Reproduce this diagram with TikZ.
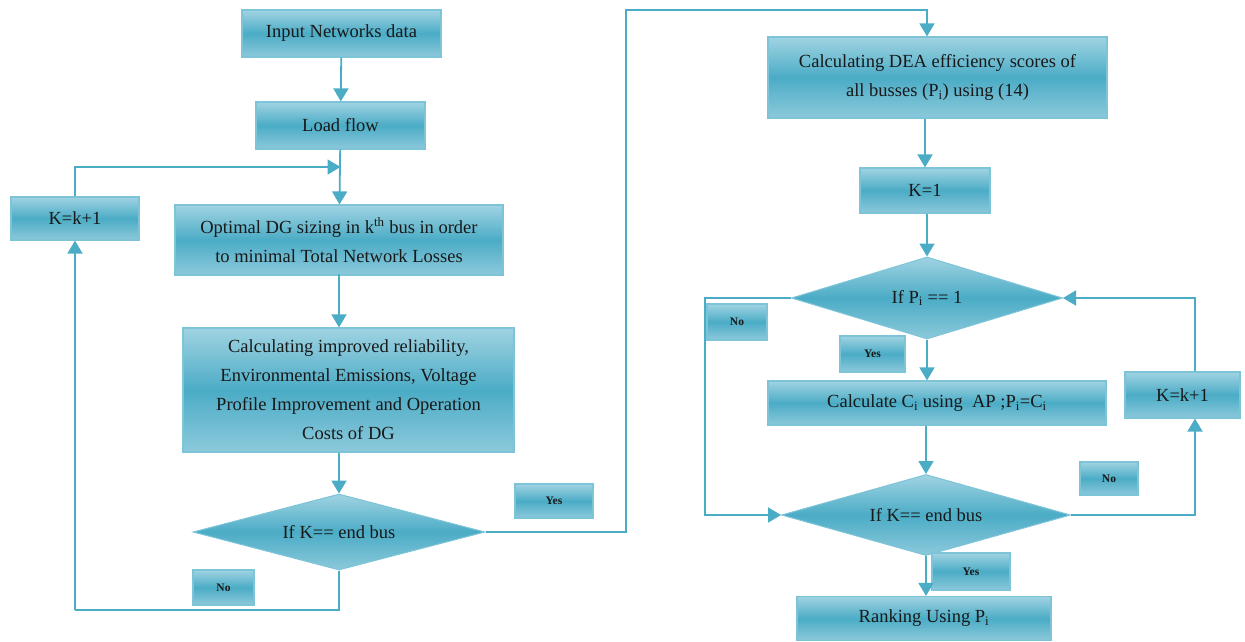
\documentclass[tikz,border=0pt]{standalone}
\usepackage{fontspec}
\setmainfont{Liberation Serif}
\usetikzlibrary{shapes.geometric,arrows.meta}
\definecolor{lineC}{RGB}{75,172,198}
\definecolor{topC}{RGB}{160,211,226}
\definecolor{midC}{RGB}{75,172,198}
\definecolor{botC}{RGB}{140,201,219}
\definecolor{bordC}{RGB}{125,196,216}
\tikzset{
  box/.style={draw=bordC, line width=1.2pt, top color=topC, bottom color=botC, middle color=midC,
    align=center, inner sep=0pt, font=\fontsize{18.5}{29}\selectfont, text=black!90},
  dec/.style={diamond, draw=bordC, line width=1pt, top color=topC, bottom color=botC, middle color=midC,
    inner sep=0pt, font=\fontsize{18.5}{29}\selectfont, text=black!90},
  lab/.style={box, font=\fontsize{11.5}{13}\selectfont\bfseries},
  conn/.style={draw=lineC, line width=1.8pt},
  arr/.style={conn, -{Triangle[width=15pt,length=13pt]}}
}
\begin{document}
\begin{tikzpicture}[x=1pt,y=-1pt]
\useasboundingbox (0,0) rectangle (1245,641);
% left column
\node[box, minimum width=199, minimum height=47] (in) at (341.5,33.5) {Input Networks data};
\node[box, minimum width=169, minimum height=47] (lf) at (340.5,125.5) {Load flow};
\node[box, minimum width=128, minimum height=43] (kk1) at (75,218.5) {K=k+1};
\node[box, minimum width=328, minimum height=70] (opt) at (339,240) {Optimal DG sizing in k\textsuperscript{th} bus in order\\to minimal Total Network Losses};
\node[box, minimum width=331, minimum height=124] (calc) at (348.5,390) {Calculating improved reliability,\\Environmental Emissions, Voltage\\Profile Improvement and Operation\\Costs of DG};
\node[dec, minimum width=292, minimum height=76, aspect=3.84] (d1) at (339,532) {If K== end bus};
\node[lab, minimum width=78, minimum height=34] (yes1) at (554,501) {Yes};
\node[lab, minimum width=61, minimum height=35] (no1) at (223.5,587.5) {No};
% right column
\node[box, minimum width=339, minimum height=81] (dea) at (937.5,77.5) {Calculating DEA efficiency scores of\\all busses (P\textsubscript{i}) using (14)};
\node[box, minimum width=130, minimum height=45] (k1) at (925,190.5) {K=1};
\node[dec, minimum width=271, minimum height=82, aspect=3.3] (dP) at (927,298) {If P\textsubscript{i} == 1};
\node[lab, minimum width=60, minimum height=36] (no2) at (737,322) {No};
\node[lab, minimum width=65, minimum height=36] (yes2) at (872.5,354) {Yes};
\node[box, minimum width=338, minimum height=44] (cc) at (937,403) {Calculate C\textsubscript{i} using\ \ AP ;P\textsubscript{i}=C\textsubscript{i}};
\node[box, minimum width=115, minimum height=46] (kk2) at (1182.5,395) {K=k+1};
\node[lab, minimum width=58, minimum height=33] (no3) at (1109,478.5) {No};
\node[dec, minimum width=289, minimum height=81, aspect=3.57] (dK) at (926,515) {If K== end bus};
\node[lab, minimum width=78, minimum height=37] (yes3) at (971,571.5) {Yes};
\node[box, minimum width=254, minimum height=44] (rank) at (924,618.5) {Ranking Using P\textsubscript{i}};
% helper coordinates
\coordinate (j1) at (340.5,167);
\coordinate (l1) at (339,610);
\coordinate (l2) at (75,610);
\coordinate (c1) at (626,532);
\coordinate (c2) at (626,10);
\coordinate (c3) at (927,10);
\coordinate (p1) at (705,298);
\coordinate (p2) at (705,515);
\coordinate (r1) at (1195,515);
\coordinate (r2) at (1195,298);
% left connectors
\draw[arr] (in) -- (lf);
\draw[arr] (lf) -- (opt);
\draw[arr] (opt.south |- calc.north) ++(0,-53) -- (opt.south |- calc.north);
\draw[arr] (calc.south -| d1.north) -- (d1.north);
\draw[conn] (d1.south) -- (l1) -- (l2);
\draw[arr] (l2) -- (kk1.south);
\draw[arr] (kk1.north) |- (j1);
\draw[arr] (d1.east) -- (c1) -- (c2) -- (c3) -- (c3 |- dea.north);
% right connectors
\draw[arr] (k1.north |- dea.south) -- (k1.north);
\draw[arr] (k1.south -| dP.north) -- (dP.north);
\draw[arr] (dP.south) -- (dP.south |- cc.north);
\draw[arr] (dK.north |- cc.south) -- (dK.north);
\draw[arr] (dK.south) -- (dK.south |- rank.north);
\draw[arr] (dP.west) -- (p1) -- (p2) -- (dK.west);
\draw[arr] (dK.east) -- (r1) -- (r1 |- kk2.south);
\draw[arr] (r1 |- kk2.north) -- (r2) -- (dP.east);
\end{tikzpicture}
\end{document}
